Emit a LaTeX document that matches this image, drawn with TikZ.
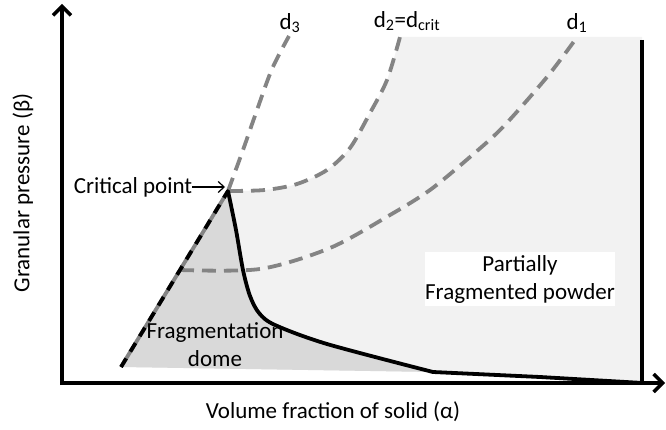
\documentclass[tikz,border=0pt]{standalone}
\usepackage{fontspec}
\setmainfont{Carlito}
\usetikzlibrary{arrows.meta}
\definecolor{lightfill}{HTML}{F2F2F2}
\definecolor{darkfill}{HTML}{D9D9D9}
\definecolor{dashgray}{HTML}{848484}
\begin{document}
\begin{tikzpicture}[x=1pt,y=-1pt,
  axisline/.style={line width=3.8pt,-{Straight Barb[length=9pt,width=18pt,line width=3.4pt]}},
  dline/.style={dashgray,line width=3.8pt,dash pattern=on 14pt off 8pt},
  bline/.style={black,line width=3.8pt,line join=round,line cap=round},
  lbl/.style={font=\fontsize{23}{28}\selectfont,inner sep=0pt}]
\useasboundingbox (0,0) rectangle (666,430);
% regions
\fill[lightfill] plot[smooth] coordinates {(229,191) (265,190) (297,184) (327,170) (350,148) (370,113) (387,80) (400,37)}
  -- (642,37) -- (642,383) -- (433,372) -- (121,367) -- cycle;
\fill[darkfill] (121,367) -- (228,191) -- plot[smooth,tension=0.5] coordinates {(228,191) (236,230) (243,270) (250,296) (259,313) (275,325) (327,344) (433,372)} -- cycle;
% white label box
\node[lbl,fill=white,minimum width=182pt,minimum height=54pt,align=center] (pfp) at (520,279) {Partially\\Fragmented powder};
% dashed lines
\draw[dline] plot[smooth] coordinates {(228,191) (243,150) (257,110) (272,69) (289,36)};
\draw[dline] plot[smooth] coordinates {(229,191) (265,190) (297,184) (327,170) (350,148) (370,113) (387,80) (400,37)};
\draw[dline] plot[smooth] coordinates {(180,270) (260,269) (330,248) (390,215) (430,190) (470,157) (503,127) (547,77) (575,40)};
\draw[dashgray,line width=3.8pt] (121,367) -- (228,191);
\draw[black,line width=3.8pt,dash pattern=on 10pt off 8pt] (121,367) -- (228,191);
% black boundary
\draw[bline] plot[smooth,tension=0.5] coordinates {(228,191) (236,230) (243,270) (250,296) (259,313) (275,325) (327,344) (433,372)} -- (540,377) -- (643,383);
% axes
\draw[line width=3.8pt] (642,40) -- (642,385);
\draw[axisline] (62,385) -- (62,4);
\draw[axisline] (60,383) -- (665,383);
% labels
\node[lbl] (critpt) at (133,187) {Critical point};
\coordinate (critp) at (225,187);
\draw[line width=1.2pt,-{Straight Barb[length=6pt,width=11pt]}] (critpt.east) -- (critp);
\node[lbl,align=center] (dome) at (215,345) {Fragmentation\\dome};
\node[lbl] (d3) at (290,23) {d\textsubscript{3}};
\node[lbl] (d2) at (407,21) {d\textsubscript{2}=d\textsubscript{crit}};
\node[lbl] (d1) at (577,23) {d\textsubscript{1}};
\node[lbl] (xlab) at (333,412) {Volume fraction of solid (α)};
\node[lbl,rotate=90] (ylab) at (23,193) {Granular pressure (β)};
\end{tikzpicture}
\end{document}
